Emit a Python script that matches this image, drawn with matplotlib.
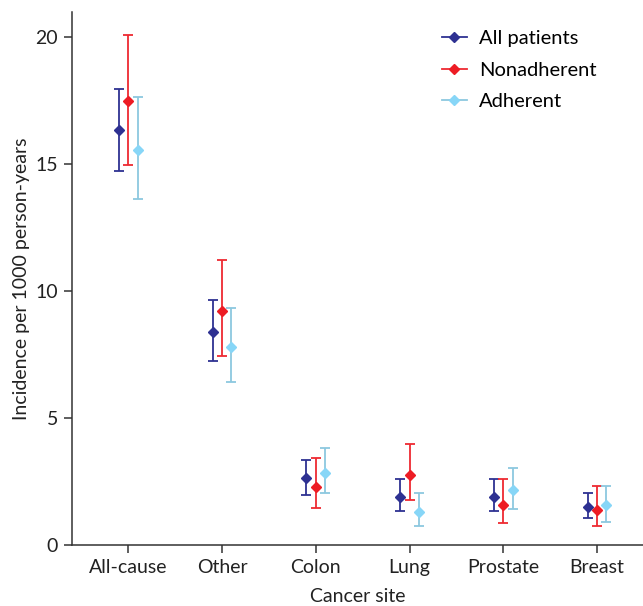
import matplotlib
matplotlib.use("Agg")
import matplotlib.pyplot as plt
import numpy as np

plt.rcParams['font.family'] = ['Lato', 'DejaVu Sans']

categories = ["All-cause", "Other", "Colon", "Lung", "Prostate", "Breast"]
series = ["All patients", "Nonadherent", "Adherent"]

all_est = [16.37, 8.40, 2.63, 1.91, 1.91, 1.49]
all_lo = [14.75, 7.26, 1.95, 1.35, 1.35, 1.05]
all_hi = [17.95, 9.66, 3.35, 2.58, 2.58, 2.05]

non_est = [17.48, 9.23, 2.30, 2.75, 1.57, 1.39]
non_lo = [14.99, 7.46, 1.45, 1.78, 0.86, 0.75]
non_hi = [20.08, 11.24, 3.44, 3.96, 2.58, 2.34]

adh_est = [15.58, 7.81, 2.85, 1.30, 2.16, 1.57]
adh_lo = [13.65, 6.43, 2.06, 0.75, 1.43, 0.92]
adh_hi = [17.67, 9.35, 3.84, 2.05, 3.05, 2.34]

marker_colors = ["#2e3192", "#ed1c24", "#87d6f7"]
err_colors = ["#2e3192", "#ee2a32", "#8cc8df"]
offsets = [-0.1, 0.0, 0.1]

fig = plt.figure(figsize=(6.43, 6.06), dpi=100)
ax = fig.add_axes([0.112, 0.1007, 0.888, 0.8795])

x = np.arange(len(categories))
data = [(all_est, all_lo, all_hi), (non_est, non_lo, non_hi), (adh_est, adh_lo, adh_hi)]
for i, (est, lo, hi) in enumerate(data):
    est = np.array(est); lo = np.array(lo); hi = np.array(hi)
    ax.errorbar(x + offsets[i], est, yerr=[est - lo, hi - est], fmt='none',
                ecolor=err_colors[i], elinewidth=1.3, capsize=3.5, capthick=1.3, zorder=2)
    ax.plot(x + offsets[i], est, linestyle='none', marker='D', markersize=5.5,
            color=marker_colors[i], zorder=3)
    ax.plot([], [], color=err_colors[i], marker='D', markersize=5.5,
            markerfacecolor=marker_colors[i], markeredgecolor=marker_colors[i],
            lw=1.3, label=series[i])

ax.set_xlim(-0.6, 5.49)
ax.set_ylim(0, 21)
ax.set_yticks([0, 5, 10, 15, 20])
ax.set_xticks(x)
ax.set_xticklabels(categories)
for s in ['left', 'bottom']:
    ax.spines[s].set_color('#333333')
    ax.spines[s].set_linewidth(1.1)
ax.spines['top'].set_visible(False)
ax.spines['right'].set_visible(False)
ax.tick_params(axis='both', labelsize=14, colors='#333333', labelcolor='#222222',
               direction='out', length=6, width=1.1, pad=4)
ax.set_ylabel("Incidence per 1000 person-years", fontsize=14, color='#222222', labelpad=4)
ax.set_xlabel("Cancer site", fontsize=14, color='#222222', labelpad=9)
ax.legend(loc='upper right', bbox_to_anchor=(0.95, 1.0), frameon=False, fontsize=14.5,
          handlelength=1.25, handletextpad=0.6, labelspacing=0.72)

fig.savefig("out.png", dpi=100)
